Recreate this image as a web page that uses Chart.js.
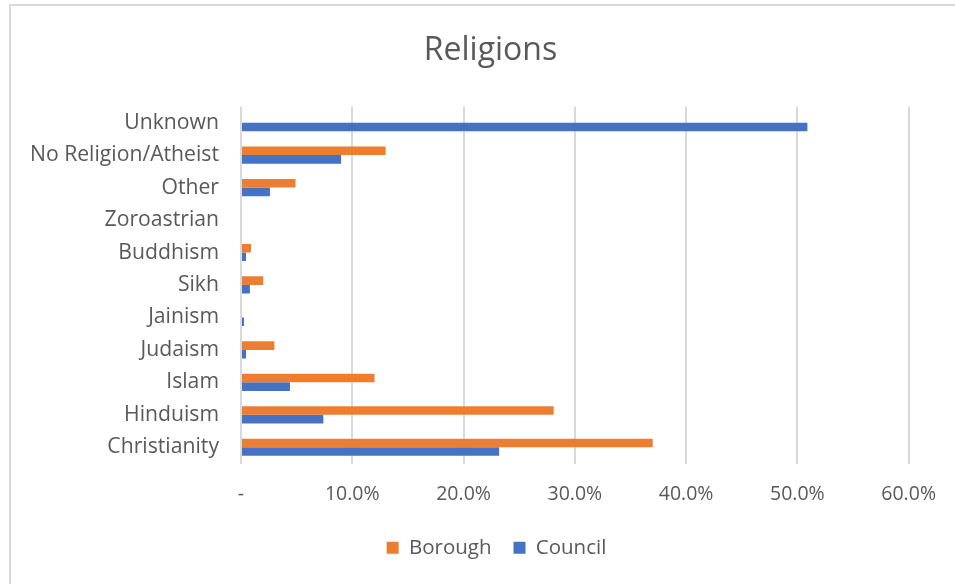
<!DOCTYPE html>
<html>
<head>
<meta charset="utf-8">
<script src="https://cdn.jsdelivr.net/npm/chart.js@4"></script>
<style>
  html, body { margin: 0; padding: 0; background: #fff; }
  #wrap { position: absolute; left: 0; top: 0; width: 955px; height: 584px; }
  #frame { position: absolute; left: 9px; top: 4px; width: 960px; height: 600px; border-left: 2px solid #d9d9d9; border-top: 2px solid #d9d9d9; }
  canvas { position: absolute; left: 0; top: 0; }
</style>
</head>
<body>
<div id="wrap">
  <div id="frame"></div>
  <canvas id="c" width="955" height="584"></canvas>
</div>
<script>
const categories = ["Christianity", "Hinduism", "Islam", "Judaism", "Jainism", "Sikh", "Buddhism", "Zoroastrian", "Other", "No Religion/Atheist", "Unknown"];
const boroughValues = [37.0, 28.1, 12.0, 3.0, 0.0, 2.0, 0.9, 0.0, 4.9, 13.0, 0.0];
const councilValues = [23.2, 7.4, 4.4, 0.45, 0.27, 0.8, 0.45, 0.0, 2.6, 9.0, 50.9];
const xTicks = [0, 10, 20, 30, 40, 50, 60];

const FONT = "'Open Sans', Lato, sans-serif";
const TXT = "#595959";

// shift the centring frame of title and legend (the Excel chart frame is offset)
const centerShift = {
  id: 'centerShift',
  afterLayout(chart) {
    if (chart.titleBlock) chart.titleBlock.left = 71;
    if (chart.legend) chart.legend.left = 83;
  }
};

new Chart(document.getElementById('c'), {
  type: 'bar',
  data: {
    labels: categories,
    datasets: [
      { label: 'Borough', data: boroughValues, backgroundColor: '#ED7D31', categoryPercentage: 0.53, barPercentage: 1.0 },
      { label: 'Council', data: councilValues, backgroundColor: '#4472C4', categoryPercentage: 0.53, barPercentage: 1.0 }
    ]
  },
  plugins: [centerShift],
  options: {
    indexAxis: 'y',
    responsive: false,
    animation: false,
    devicePixelRatio: 1,
    layout: { padding: { left: 0, right: 45, top: 0, bottom: 16 } },
    plugins: {
      title: {
        display: true, text: 'Religions', color: TXT,
        font: { family: FONT, size: 32, weight: 'normal' },
        padding: { top: 32, bottom: 36 }
      },
      legend: {
        position: 'bottom',
        labels: { color: TXT, font: { family: FONT, size: 20.5 }, boxWidth: 12, boxHeight: 12, padding: 22 }
      },
      tooltip: { enabled: false }
    },
    scales: {
      y: {
        reverse: true,
        grid: { display: false, drawTicks: false },
        border: { display: false },
        ticks: { color: TXT, font: { family: FONT, size: 21.2 }, padding: 22 },
        afterFit: (s) => { s.width = 241; }
      },
      x: {
        min: 0, max: 60,
        afterBuildTicks: (s) => { s.ticks = xTicks.map(v => ({ value: v })); },
        grid: { color: '#d9d9d9', lineWidth: 2, drawTicks: false },
        border: { display: false },
        ticks: {
          color: TXT, font: { family: FONT, size: 19.5 }, padding: 19,
          callback: (v) => v === 0 ? '-' : v.toFixed(1) + '%'
        },
        afterFit: (s) => { s.height = 52; }
      }
    }
  }
});
</script>
</body>
</html>
